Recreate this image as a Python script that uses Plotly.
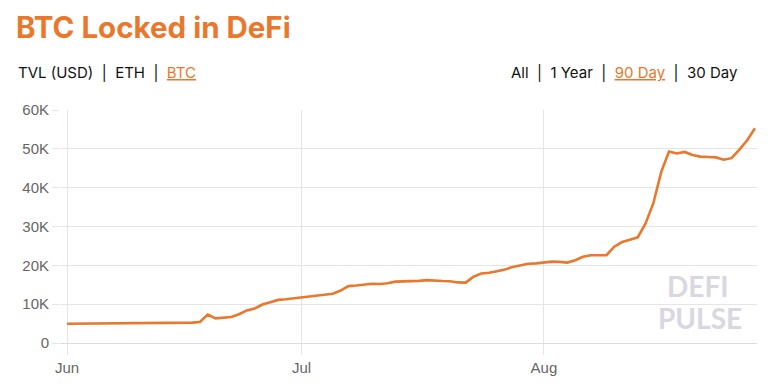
import plotly.graph_objects as go
import pandas as pd

dates = pd.date_range("2020-06-01", "2020-08-28", freq="D")
btc_locked = [
    4950, 4960, 4970, 4980, 4990, 5000, 5010, 5020, 5030, 5040,
    5060, 5080, 5100, 5130, 5160, 5200, 5250, 5400, 7300, 6350,
    6550, 6700, 7400, 8400, 8900, 9900, 10500, 11100, 11250, 11500,
    11800, 12000, 12300, 12550, 12700, 13500, 14650, 14800, 14950, 15270,
    15200, 15400, 15800, 15850, 15950, 16000, 16200, 16000, 15950, 15900,
    15600, 15550, 17100, 17900, 18100, 18500, 18900, 19600, 20100, 20400,
    20500, 20800, 20950, 20900, 20700, 21300, 22200, 22600, 22650, 22600,
    24800, 26000, 26600, 27200, 30800, 36000, 44000, 49300, 48800, 49200,
    48400, 48000, 47900, 47800, 47200, 47600, 49800, 52200, 55300,
]
y_ticks = [0, 10000, 20000, 30000, 40000, 50000, 60000]
y_tick_labels = ["0", "10K", "20K", "30K", "40K", "50K", "60K"]

ORANGE = "#E9782C"
GRID = "#E5E5E5"

fig = go.Figure()
fig.add_trace(go.Scatter(
    x=dates, y=btc_locked, mode="lines",
    line=dict(color=ORANGE, width=2.6),
    hoverinfo="skip", showlegend=False,
))

# page body has an 8px margin, so the figure is drawn 8px right/down
fig.update_layout(
    width=767, height=380,
    margin=dict(l=52, r=18, t=102, b=45),
    paper_bgcolor="white", plot_bgcolor="white",
    font=dict(family="Liberation Sans, Arial, sans-serif", color="#666666", size=15),
    xaxis=dict(
        range=["2020-05-31 02:30", "2020-08-28 06:10"],
        dtick="M1", tick0="2020-06-01", tickformat="%b",
        showgrid=True, gridcolor=GRID, gridwidth=1,
        ticks="outside", ticklen=11, tickcolor=GRID,
        showline=False, zeroline=False,
        tickfont=dict(size=15, color="#666666"),
    ),
    yaxis=dict(
        range=[0, 60000],
        tickvals=y_ticks, ticktext=y_tick_labels,
        showgrid=True, gridcolor=GRID, gridwidth=1,
        ticks="outside", ticklen=7, tickcolor=GRID,
        showline=False, zeroline=True, zerolinecolor="#DDDDDD", zerolinewidth=1,
        tickfont=dict(size=15, color="#666666"),
    ),
)

def px_x(px):
    return (px - 60) / 697

def px_y(py):
    return (343 - py) / 233

annotations = [
    dict(text="<b>BTC Locked in DeFi</b>", x=px_x(14), y=px_y(27),
         xanchor="left", yanchor="middle",
         font=dict(family="Inter, sans-serif", size=29.5, color=ORANGE)),
    dict(text='TVL (USD)  |  ETH  |  <span style="color:' + ORANGE + ';text-decoration:underline">BTC</span>',
         x=px_x(16), y=px_y(72), xanchor="left", yanchor="middle",
         font=dict(family="Inter, sans-serif", size=15, color="#111111")),
    dict(text='All  |  1 Year  |  <span style="color:' + ORANGE + ';text-decoration:underline">90 Day</span>  |  30 Day',
         x=px_x(740), y=px_y(72), xanchor="right", yanchor="middle",
         font=dict(family="Inter, sans-serif", size=15, color="#111111")),
    dict(text="<b>DEFI</b>", x=px_x(698), y=px_y(305), xanchor="center", yanchor="bottom",
         font=dict(family="Lato, sans-serif", size=28, color="#D9D7E1")),
    dict(text="<b>PULSE</b>", x=px_x(700), y=px_y(299), xanchor="center", yanchor="top",
         font=dict(family="Lato, sans-serif", size=28, color="#D9D7E1")),
]
for a in annotations:
    a.update(xref="paper", yref="paper", showarrow=False)
fig.update_layout(annotations=annotations)

fig.write_html("out.html")
